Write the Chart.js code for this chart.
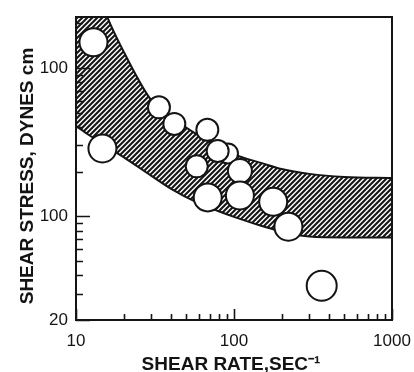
<!DOCTYPE html>
<html>
<head>
<meta charset="utf-8">
<script src="https://cdn.jsdelivr.net/npm/chart.js@4/dist/chart.umd.min.js"></script>
<style>
  body { margin: 0; background: #fff; }
  #chart { display: block; }
</style>
</head>
<body>
<canvas id="chart" width="414" height="372"></canvas>
<script>
// measured points (shear rate, shear stress)
const shearRate = [12.9, 14.7, 33.5, 41.9, 67.8, 91.6, 78.8, 58.1, 109, 68.2, 109, 177, 221, 359];
const shearStress = [1486, 286, 542, 419, 382, 265, 275, 217, 202, 134, 138, 125, 85, 34];
const pointSizes = [14, 14, 11, 11, 11, 10, 11, 11, 12, 14, 14, 14, 14, 15];

// hatched band edges
const bandRate = [10, 12, 15, 20, 30, 40, 60, 80, 100, 150, 200, 300, 500, 1000];
const bandUpper = [12000, 5500, 2520, 1290, 603, 466, 349, 295, 261, 228, 208, 193, 184, 181];
const bandLower = [406, 354, 304, 250, 187, 153, 122, 108, 99, 86, 79, 73, 72, 72];

// axis ticks
const xTicks = [10, 100, 1000];
const xTickLabels = ['10', '100', '1000'];
const yTicks = [20, 100, 1000];
const yTickLabels = ['20', '100', '100'];
const xMinor = [20, 30, 40, 50, 60, 70, 80, 90, 200, 300, 400, 500, 600, 700, 800, 900];
const yMinor = [30, 40, 50, 60, 70, 80, 90, 200, 300, 400, 500, 600, 700, 800, 900, 2000];

const FONT = '"Liberation Sans", Arial, sans-serif';
const INK = '#141414';

// diagonal hatch pattern
function makeHatch() {
    const tile = document.createElement('canvas');
    tile.width = 5;
    tile.height = 5;
    const t = tile.getContext('2d');
    t.strokeStyle = '#161616';
    t.lineWidth = 2.1;
    t.beginPath();
    t.moveTo(0, 5); t.lineTo(5, 0);
    t.moveTo(-1, 1); t.lineTo(1, -1);
    t.moveTo(4, 6); t.lineTo(6, 4);
    t.stroke();
    return t.createPattern(tile, 'repeat');
}

const framePlugin = {
    id: 'frame',
    afterDatasetsDraw(chart) {
        const { ctx, chartArea: a, scales } = chart;
        const x = scales.x, y = scales.y;
        ctx.save();
        ctx.strokeStyle = INK;
        ctx.lineWidth = 1.6;
        ctx.beginPath();
        yMinor.forEach(v => {
            const py = Math.round(y.getPixelForValue(v)) + 0.5;
            if (py < a.top || py > a.bottom) return;
            ctx.moveTo(a.left, py); ctx.lineTo(a.left + 7, py);
        });
        yTicks.forEach(v => {
            const py = Math.round(y.getPixelForValue(v)) + 0.5;
            ctx.moveTo(a.left, py); ctx.lineTo(a.left + 14, py);
        });
        xMinor.forEach(v => {
            const px = Math.round(x.getPixelForValue(v)) + 0.5;
            ctx.moveTo(px, a.bottom); ctx.lineTo(px, a.bottom - 6);
        });
        xTicks.forEach(v => {
            const px = Math.round(x.getPixelForValue(v)) + 0.5;
            ctx.moveTo(px, a.bottom); ctx.lineTo(px, a.bottom - 11);
        });
        ctx.stroke();
        ctx.lineWidth = 2;
        ctx.strokeRect(a.left, a.top, a.right - a.left, a.bottom - a.top);

        // axis titles
        ctx.fillStyle = INK;
        ctx.font = 'bold 19px ' + FONT;
        ctx.textAlign = 'center';
        ctx.textBaseline = 'alphabetic';
        ctx.fillText('SHEAR RATE,SEC\u207B\u00B9', 231, 370);
        ctx.translate(33, 176);
        ctx.rotate(-Math.PI / 2);
        ctx.fillText('SHEAR STRESS, DYNES cm', 0, 0);
        ctx.restore();
    }
};

const ctx = document.getElementById('chart').getContext('2d');
const hatch = makeHatch();

new Chart(ctx, {
    type: 'scatter',
    data: {
        datasets: [
            {
                type: 'line',
                data: bandRate.map((r, i) => ({ x: r, y: bandUpper[i] })),
                borderColor: INK,
                borderWidth: 2,
                pointRadius: 0,
                cubicInterpolationMode: 'monotone',
                fill: '+1',
                backgroundColor: hatch,
                order: 2
            },
            {
                type: 'line',
                data: bandRate.map((r, i) => ({ x: r, y: bandLower[i] })),
                borderColor: INK,
                borderWidth: 2,
                pointRadius: 0,
                cubicInterpolationMode: 'monotone',
                fill: false,
                order: 2
            },
            {
                data: shearRate.map((r, i) => ({ x: r, y: shearStress[i] })),
                pointRadius: pointSizes,
                pointBackgroundColor: '#fff',
                pointBorderColor: INK,
                pointBorderWidth: 2,
                order: 1
            }
        ]
    },
    options: {
        responsive: false,
        animation: false,
        layout: { padding: { left: 0, right: 22, top: 11, bottom: 0 } },
        plugins: {
            legend: { display: false },
            tooltip: { enabled: false }
        },
        scales: {
            x: {
                type: 'logarithmic',
                min: 10,
                max: 1000,
                grid: { display: false, drawTicks: false },
                border: { display: false },
                afterBuildTicks: s => { s.ticks = xTicks.map(v => ({ value: v })); },
                afterFit: s => { s.height = 52; s.paddingLeft = 0; s.paddingRight = 0; },
                ticks: {
                    padding: 11,
                    maxRotation: 0,
                    autoSkip: false,
                    color: INK,
                    font: { family: FONT, size: 17 },
                    callback: v => xTickLabels[xTicks.indexOf(v)]
                }
            },
            y: {
                type: 'logarithmic',
                min: 20,
                max: 2200,
                grid: { display: false, drawTicks: false },
                border: { display: false },
                afterBuildTicks: s => { s.ticks = yTicks.map(v => ({ value: v })); },
                afterFit: s => { s.width = 76; s.paddingTop = 0; s.paddingBottom = 0; },
                ticks: {
                    padding: 8,
                    autoSkip: false,
                    color: INK,
                    font: { family: FONT, size: 17 },
                    callback: v => yTickLabels[yTicks.indexOf(v)]
                }
            }
        }
    },
    plugins: [framePlugin]
});
</script>
</body>
</html>
